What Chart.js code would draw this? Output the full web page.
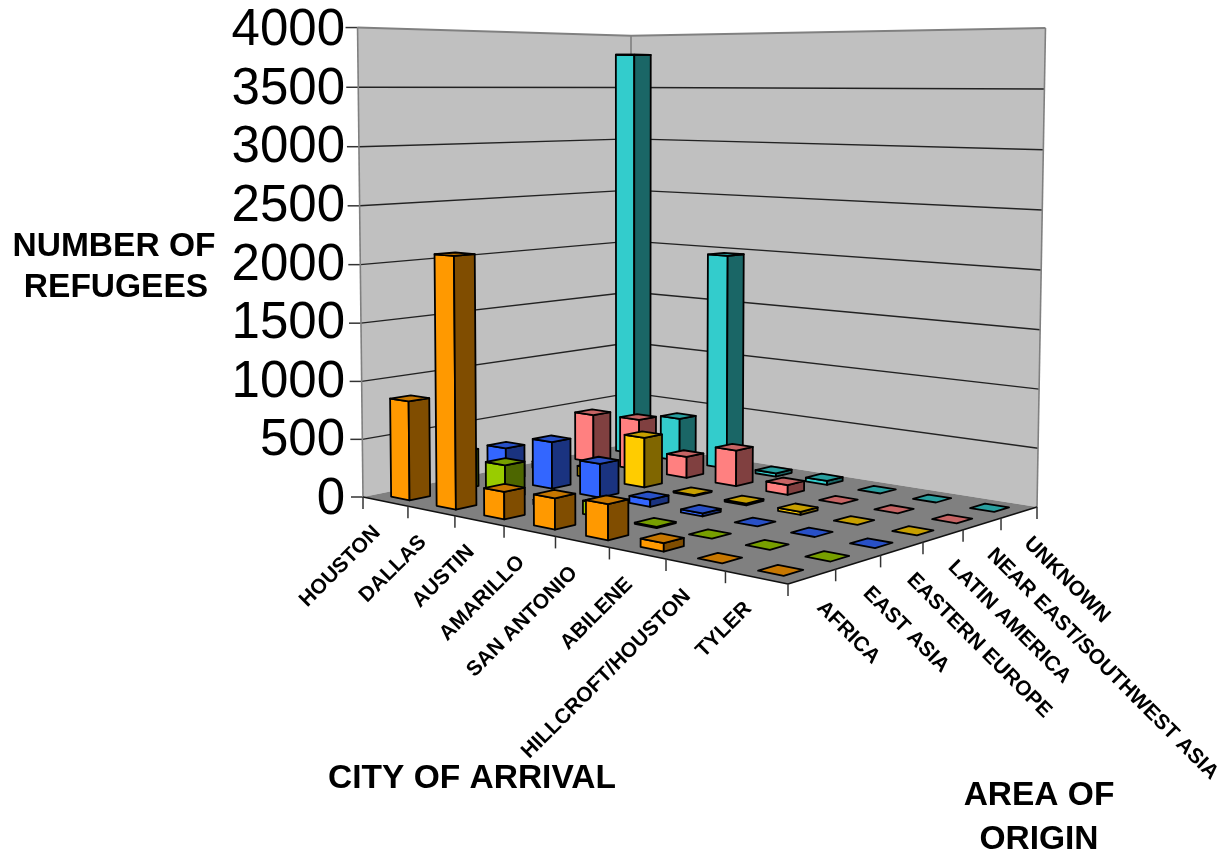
<!DOCTYPE html>
<html>
<head>
<meta charset="utf-8">
<title>Refugee arrivals</title>
<script src="https://cdn.jsdelivr.net/npm/chart.js@4"></script>
<style>
    html, body { margin: 0; padding: 0; background: #fff; }
    #wrap { width: 1225px; height: 852px; }
</style>
</head>
<body>
<div id="wrap"><canvas id="refugeeChart" width="1225" height="852"></canvas></div>
<script>
// Chart data
const cities = ['HOUSTON', 'DALLAS', 'AUSTIN', 'AMARILLO', 'SAN ANTONIO', 'ABILENE', 'HILLCROFT/HOUSTON', 'TYLER'];
const origins = ['AFRICA', 'EAST ASIA', 'EASTERN EUROPE', 'LATIN AMERICA', 'NEAR EAST/SOUTHWEST ASIA', 'UNKNOWN'];
const africa = [850, 2120, 227, 253, 285, 65, 0, 0];
const eastAsia = [330, 290, 40, 110, 10, 0, 0, 0];
const easternEurope = [288, 413, 292, 60, 25, 0, 0, 0];
const latinAmerica = [60, 90, 441, 10, 15, 25, 0, 0];
const nearEast = [445, 463, 190, 318, 86, 0, 0, 0];
const unknown = [3810, 400, 1970, 30, 35, 0, 0, 0];
const seriesValues = [africa, eastAsia, easternEurope, latinAmerica, nearEast, unknown];
const seriesColors = [[255, 153, 0], [153, 204, 0], [51, 102, 255], [255, 204, 0], [255, 128, 128], [51, 204, 204]];

const FONT = '"Liberation Sans", Arial, sans-serif';

// Floor corners in canvas space: (u,v) = (0,0) left, (1,0) front, (1,1) right, (0,1) back
const LEFT = [363, 497], FRONT = [788, 584], RIGHT = [1037, 507], BACK = [631, 443];
// What a full-height step adds in homogeneous coordinates
const RISE = [-12.6, -470, -0.02];
const BAR_FILL = 0.41;

const floorMatrix = (function() {
    const dx1 = FRONT[0] - RIGHT[0], dx2 = BACK[0] - RIGHT[0], sx = LEFT[0] - FRONT[0] + RIGHT[0] - BACK[0];
    const dy1 = FRONT[1] - RIGHT[1], dy2 = BACK[1] - RIGHT[1], sy = LEFT[1] - FRONT[1] + RIGHT[1] - BACK[1];
    const den = dx1 * dy2 - dx2 * dy1;
    const g = (sx * dy2 - dx2 * sy) / den;
    const h = (dx1 * sy - sx * dy1) / den;
    return {
        a: FRONT[0] - LEFT[0] + g * FRONT[0], b: BACK[0] - LEFT[0] + h * BACK[0], c: LEFT[0],
        d: FRONT[1] - LEFT[1] + g * FRONT[1], e: BACK[1] - LEFT[1] + h * BACK[1], f: LEFT[1],
        g: g, h: h
    };
})();

// u along the city edge, v along the origin edge, t is the height as a fraction of the axis
function project(u, v, t) {
    const m = floorMatrix;
    const w = m.g * u + m.h * v + 1 + RISE[2] * t;
    return [
        (m.a * u + m.b * v + m.c + RISE[0] * t) / w,
        (m.d * u + m.e * v + m.f + RISE[1] * t) / w
    ];
}

function heightFraction(yScale, value) {
    return (yScale.bottom - yScale.getPixelForValue(value)) / (yScale.bottom - yScale.top);
}

function poly(ctx, pts, fill, stroke, width) {
    ctx.beginPath();
    pts.forEach(function(p, i) {
        if (i === 0) ctx.moveTo(p[0], p[1]); else ctx.lineTo(p[0], p[1]);
    });
    ctx.closePath();
    if (fill) { ctx.fillStyle = fill; ctx.fill(); }
    if (stroke) { ctx.strokeStyle = stroke; ctx.lineWidth = width; ctx.stroke(); }
}

function line(ctx, a, b, color, width) {
    ctx.beginPath();
    ctx.moveTo(a[0], a[1]);
    ctx.lineTo(b[0], b[1]);
    ctx.strokeStyle = color;
    ctx.lineWidth = width;
    ctx.stroke();
}

function shade(rgb, k) {
    return 'rgb(' + rgb.map(function(c) { return Math.round(c * k); }).join(',') + ')';
}

// Bars as 3D boxes, one row of the floor per dataset. Chart.js paints the last
// dataset first, so the rows come out back to front.
class Bar3dController extends Chart.BarController {
    draw() {
        const ctx = this.chart.ctx;
        const meta = this.getMeta();
        const xScale = this.chart.scales.x;
        const yScale = this.chart.scales.y;
        const rgb = this.getDataset().rgb;
        const rows = this.chart.data.datasets.length;
        const halfU = BAR_FILL / 2 / meta._parsed.length;
        const halfV = BAR_FILL / 2 / rows;
        const v = (this.index + 0.5) / rows;
        ctx.save();
        ctx.lineJoin = 'round';
        meta._parsed.forEach(function(item, i) {
            const u = (xScale.getPixelForValue(i) - xScale.left) / xScale.width;
            const t = heightFraction(yScale, item.y);
            const u0 = u - halfU, u1 = u + halfU, v0 = v - halfV, v1 = v + halfV;
            if (item.y > 0) {
                poly(ctx, [project(u0, v0, 0), project(u1, v0, 0), project(u1, v0, t), project(u0, v0, t)], shade(rgb, 1), '#000', 1.8);
                poly(ctx, [project(u1, v0, 0), project(u1, v1, 0), project(u1, v1, t), project(u1, v0, t)], shade(rgb, 0.5), '#000', 1.8);
            }
            poly(ctx, [project(u0, v0, t), project(u1, v0, t), project(u1, v1, t), project(u0, v1, t)], shade(rgb, 0.78), '#000', 1.8);
        });
        ctx.restore();
    }
}
Bar3dController.id = 'bar3d';
Bar3dController.defaults = Chart.BarController.defaults;
Chart.register(Bar3dController);

// Walls, floor, wall gridlines and the floor's axis labels
const scenePlugin = {
    id: 'scene',
    beforeDatasetsDraw: function(chart) {
        const ctx = chart.ctx;
        const yScale = chart.scales.y;
        ctx.save();
        poly(ctx, [project(0, 0, 0), project(0, 1, 0), project(0, 1, 1), project(0, 0, 1)], '#c0c0c0');
        poly(ctx, [project(0, 1, 0), project(1, 1, 0), project(1, 1, 1), project(0, 1, 1)], '#c0c0c0');
        poly(ctx, [project(0, 0, 0), project(1, 0, 0), project(1, 1, 0), project(0, 1, 0)], '#808080');

        yScale.ticks.forEach(function(tick) {
            const t = heightFraction(yScale, tick.value);
            const p = project(0, 0, t);
            line(ctx, p, [p[0] - 12, p[1]], '#333', 1.5);
            if (tick.value > 0 && tick.value < yScale.max) {
                line(ctx, p, project(0, 1, t), '#222', 1.4);
                line(ctx, project(0, 1, t), project(1, 1, t), '#222', 1.4);
            }
        });
        [[0, 0], [0, 1], [1, 1]].forEach(function(c) {
            line(ctx, project(c[0], c[1], 0), project(c[0], c[1], 1), '#808080', 1.6);
        });
        line(ctx, project(0, 0, 1), project(0, 1, 1), '#808080', 2);
        line(ctx, project(0, 1, 1), project(1, 1, 1), '#808080', 2);
        line(ctx, project(0, 0, 0), project(1, 0, 0), '#111', 1.6);
        line(ctx, project(1, 0, 0), project(1, 1, 0), '#111', 1.6);

        // Tick marks below the two front edges
        for (let i = 0; i <= cities.length; i++) {
            const p = project(i / cities.length, 0, 0);
            line(ctx, p, [p[0], p[1] + 12], '#333', 1.5);
        }
        for (let j = 1; j <= origins.length; j++) {
            const p = project(1, j / origins.length, 0);
            line(ctx, p, [p[0], p[1] + 12], '#333', 1.5);
        }

        // Rotated category labels
        ctx.fillStyle = '#000';
        ctx.font = 'bold 21px ' + FONT;
        ctx.textBaseline = 'middle';
        cities.forEach(function(name, i) {
            const p = project((i + 0.5) / cities.length, 0, 0);
            ctx.save();
            ctx.translate(p[0] - 8, p[1] + 28);
            ctx.rotate(-Math.PI / 4);
            ctx.textAlign = 'right';
            ctx.fillText(name, 0, 0);
            ctx.restore();
        });
        origins.forEach(function(name, j) {
            const p = project(1, (j + 0.5) / origins.length, 0);
            ctx.save();
            ctx.translate(p[0] + 8, p[1] + 28);
            ctx.rotate(Math.PI / 4);
            ctx.textAlign = 'left';
            ctx.fillText(name, 0, 0);
            ctx.restore();
        });

        // Axis titles
        ctx.font = 'bold 33.5px ' + FONT;
        ctx.textAlign = 'center';
        ctx.fillText('NUMBER OF', 114, 247);
        ctx.fillText('REFUGEES', 116, 288);
        ctx.fillText('CITY OF ARRIVAL', 472, 779);
        ctx.fillText('AREA OF', 1039, 796);
        ctx.fillText('ORIGIN', 1039, 840);
        ctx.restore();
    }
};

document.addEventListener('DOMContentLoaded', function() {
    const ctx = document.getElementById('refugeeChart');
    new Chart(ctx, {
        type: 'bar3d',
        data: {
            labels: cities,
            datasets: origins.map(function(name, i) {
                return { label: name, data: seriesValues[i], rgb: seriesColors[i], clip: false };
            })
        },
        options: {
            responsive: false,
            animation: false,
            layout: { padding: { top: 31, right: 180, bottom: 352, left: 0 } },
            plugins: { legend: { display: false }, tooltip: { enabled: false } },
            scales: {
                x: { type: 'category', display: false },
                y: {
                    min: 0,
                    max: 4000,
                    // the big labels must not push the plot area inward
                    afterFit: function(scale) {
                        scale.width = 357;
                        scale.paddingTop = 0;
                        scale.paddingBottom = 0;
                    },
                    grid: { display: false, drawTicks: false },
                    border: { display: false },
                    ticks: {
                        stepSize: 500,
                        autoSkip: false,
                        padding: 12,
                        color: '#000',
                        font: { family: FONT, size: 51 },
                        callback: function(value) { return String(value); }
                    }
                }
            }
        },
        plugins: [scenePlugin]
    });
});
</script>
</body>
</html>
